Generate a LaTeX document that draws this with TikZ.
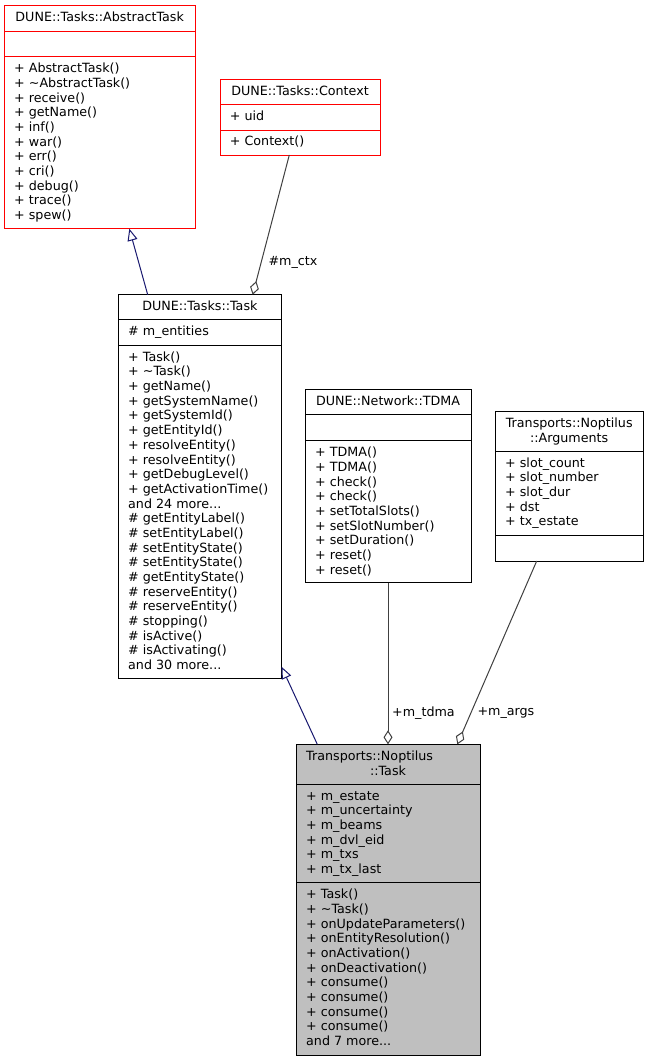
\documentclass[tikz,border=0pt]{standalone}
\usepackage{fontspec}
\setmainfont{DejaVu Sans}
\usetikzlibrary{arrows.meta}
\definecolor{genblue}{HTML}{191970}
\definecolor{compgray}{HTML}{404040}
\definecolor{boxgray}{HTML}{BFBFBF}
\definecolor{boxred}{HTML}{FF0000}
\newcommand\fnt{\fontsize{12.7pt}{14.67pt}\selectfont}
\newcommand\ls{\rule{0pt}{12pt}}
\begin{document}
\begin{tikzpicture}[x=1pt,y=-1pt,
 cls/.style={draw=black,line width=1pt,anchor=north west,inner sep=0pt,outer sep=0pt,fill=white},
 redcls/.style={cls,draw=boxred},
 txt/.style={anchor=north west,inner sep=0pt,align=left,font=\fnt},
 ttl/.style={anchor=north,inner sep=0pt,align=center,font=\fnt},
 gen/.style={draw=genblue,line width=1pt,-{Triangle[open,length=12pt,width=10pt]}},
 comp/.style={draw=compgray,line width=1pt,-{Diamond[open,length=14pt,width=9pt]}},
 lbl/.style={anchor=base west,inner sep=0pt,font=\fnt},
 dv/.style={line width=1pt}
]
\useasboundingbox (0,0) rectangle (648,1061);
\fill[white] (0,0) rectangle (648,1061);

% AbstractTask
\node[redcls,minimum width=190.7pt,minimum height=223pt] (AT) at (4.3,5.7) {};
\draw[boxred,dv] (4.3,31.7) -- (195,31.7);
\draw[boxred,dv] (4.3,56.7) -- (195,56.7);
\node[ttl] (ATt) at (99.7,9.7) {\ls DUNE::Tasks::AbstractTask};
\node[txt] (ATm) at (14,60.5) {\ls + AbstractTask()\\+ \textasciitilde AbstractTask()\\+ receive()\\+ getName()\\+ inf()\\+ war()\\+ err()\\+ cri()\\+ debug()\\+ trace()\\+ spew()};

% Context
\node[redcls,minimum width=160pt,minimum height=75.7pt] (CT) at (220,79.3) {};
\draw[boxred,dv] (220,104.7) -- (380,104.7);
\draw[boxred,dv] (220,130) -- (380,130);
\node[ttl] (CTt) at (300,83) {\ls DUNE::Tasks::Context};
\node[txt] (CTa) at (229.7,108.3) {\ls + uid};
\node[txt] (CTm) at (229.7,133.7) {\ls + Context()};

% Task
\node[cls,minimum width=163.2pt,minimum height=383.8pt] (TK) at (118.3,294.7) {};
\draw[dv] (118.3,319.7) -- (281.5,319.7);
\draw[dv] (118.3,345.3) -- (281.5,345.3);
\node[ttl] (TKt) at (199.9,298.5) {\ls DUNE::Tasks::Task};
\node[txt] (TKa) at (128,323.5) {\ls \# m\_entities};
\node[txt] (TKm) at (128,349.1) {\ls + Task()\\+ \textasciitilde Task()\\+ getName()\\+ getSystemName()\\+ getSystemId()\\+ getEntityId()\\+ resolveEntity()\\+ resolveEntity()\\+ getDebugLevel()\\+ getActivationTime()\\and 24 more...\\\# getEntityLabel()\\\# setEntityLabel()\\\# setEntityState()\\\# setEntityState()\\\# getEntityState()\\\# reserveEntity()\\\# reserveEntity()\\\# stopping()\\\# isActive()\\\# isActivating()\\and 30 more...};

% TDMA
\node[cls,minimum width=166pt,minimum height=193.4pt] (TD) at (305,389.3) {};
\draw[dv] (305,414.3) -- (471,414.3);
\draw[dv] (305,440.7) -- (471,440.7);
\node[ttl] (TDt) at (388,393) {\ls DUNE::Network::TDMA};
\node[txt] (TDm) at (315,444.5) {\ls + TDMA()\\+ TDMA()\\+ check()\\+ check()\\+ setTotalSlots()\\+ setSlotNumber()\\+ setDuration()\\+ reset()\\+ reset()};

% Arguments
\node[cls,minimum width=148.3pt,minimum height=149.3pt] (AR) at (495,411.7) {};
\draw[dv] (495,451) -- (643.3,451);
\draw[dv] (495,535) -- (643.3,535);
\node[ttl] (ARt) at (569.2,415.5) {\ls Transports::Noptilus\\::Arguments};
\node[txt] (ARa) at (505,454.8) {\ls + slot\_count\\+ slot\_number\\+ slot\_dur\\+ dst\\+ tx\_estate};

% Noptilus Task
\node[cls,fill=boxgray,minimum width=184pt,minimum height=310.7pt] (NT) at (296,744.3) {};
\draw[dv] (296,784.3) -- (480,784.3);
\draw[dv] (296,882.7) -- (480,882.7);
\node[txt] (NTt1) at (306,748.1) {\ls Transports::Noptilus};
\node[ttl] (NTt2) at (388,762.8) {\ls ::Task};
\node[txt] (NTa) at (306,788.1) {\ls + m\_estate\\+ m\_uncertainty\\+ m\_beams\\+ m\_dvl\_eid\\+ m\_txs\\+ m\_tx\_last};
\node[txt] (NTm) at (306,886.5) {\ls + Task()\\+ \textasciitilde Task()\\+ onUpdateParameters()\\+ onEntityResolution()\\+ onActivation()\\+ onDeactivation()\\+ consume()\\+ consume()\\+ consume()\\+ consume()\\and 7 more...};

% connectors
\draw[gen] ([xshift=29.4pt]TK.north west) -- ([xshift=125pt]AT.south west);
\draw[gen] ([xshift=21.3pt]NT.north west) -- ([yshift=11.8pt]TK.south east);
\draw[comp] ([xshift=69.3pt]CT.south west) -- ([xshift=134.4pt]TK.north west);
\draw[comp] ([xshift=83pt]TD.south west) -- ([xshift=92pt]NT.north west);
\draw[comp] ([xshift=41.7pt]AR.south west) -- ([xshift=161.3pt]NT.north west);

% labels
\node[lbl] (Lctx) at (268.3,265) {\#m\_ctx};
\node[lbl] (Ltdma) at (392,716) {+m\_tdma};
\node[lbl] (Largs) at (477.3,715) {+m\_args};
\end{tikzpicture}
\end{document}
